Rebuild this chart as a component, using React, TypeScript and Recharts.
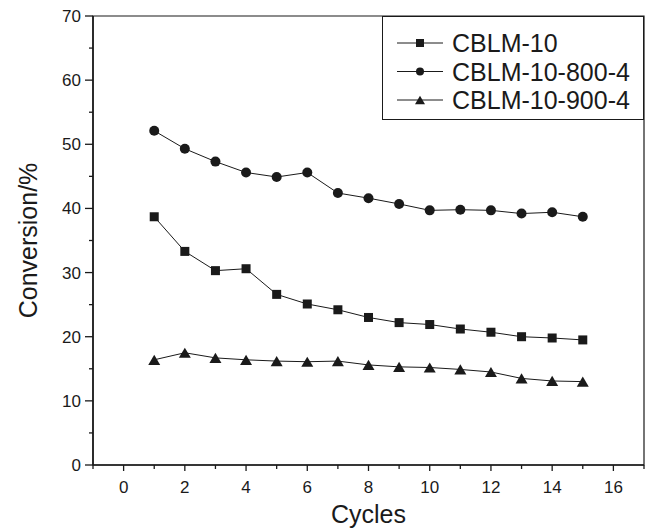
import { LineChart, Line, XAxis, YAxis, Legend, ReferenceArea } from 'recharts'

const cycles = [1, 2, 3, 4, 5, 6, 7, 8, 9, 10, 11, 12, 13, 14, 15]
const cblm10 = [38.7, 33.3, 30.3, 30.6, 26.6, 25.1, 24.2, 23.0, 22.2, 21.9, 21.2, 20.7, 20.0, 19.8, 19.5]
const cblm800 = [52.1, 49.3, 47.3, 45.6, 44.9, 45.6, 42.4, 41.6, 40.7, 39.7, 39.8, 39.7, 39.2, 39.4, 38.7]
const cblm900 = [16.4, 17.5, 16.7, 16.4, 16.2, 16.1, 16.2, 15.6, 15.3, 15.2, 14.9, 14.5, 13.5, 13.1, 13.0]
const xTicks = [-1, 0, 1, 2, 3, 4, 5, 6, 7, 8, 9, 10, 11, 12, 13, 14, 15, 16, 17]
const yTicks = [0, 5, 10, 15, 20, 25, 30, 35, 40, 45, 50, 55, 60, 65, 70]

const data = cycles.map((c, i) => ({ cycle: c, a: cblm10[i], b: cblm800[i], c: cblm900[i] }))

const font = '"Liberation Sans", Arial, Helvetica, sans-serif'
const ink = '#1a1a1a'
const shapes: Record<string, string> = { a: 'square', b: 'circle', c: 'triangle' }

function Marker({ shape, cx, cy, size }: { shape: string; cx: number; cy: number; size: number }) {
  if (shape === 'square') return <rect x={cx - size / 2} y={cy - size / 2} width={size} height={size} fill={ink} />
  if (shape === 'circle') return <circle cx={cx} cy={cy} r={size / 2} fill={ink} />
  const h = size * 0.85
  return <polygon points={`${cx},${cy - h / 2} ${cx - size / 2},${cy + h / 2} ${cx + size / 2},${cy + h / 2}`} fill={ink} />
}

const dotFor = (shape: string, size: number) => (p: any) =>
  <Marker key={`${shape}-${p.index}`} shape={shape} cx={p.cx} cy={p.cy} size={size} />

function XTick({ x, y, payload }: any) {
  const major = payload.value % 2 === 0
  return (
    <g>
      <line x1={x} x2={x} y1={y} y2={y + (major ? 6 : 4)} stroke={ink} strokeWidth={1.3} />
      {major && <text x={x} y={y + 28} textAnchor="middle" fontSize={17} fontFamily={font} fill={ink}>{payload.value}</text>}
    </g>
  )
}

function YTick({ x, y, payload }: any) {
  const major = payload.value % 10 === 0
  return (
    <g>
      <line x1={x - (major ? 8 : 4)} x2={x} y1={y} y2={y} stroke={ink} strokeWidth={1.3} />
      {major && <text x={x - 12} y={y + 6} textAnchor="end" fontSize={17} fontFamily={font} fill={ink}>{payload.value}</text>}
    </g>
  )
}

function LegendBox({ payload }: any) {
  return (
    <svg width={262} height={104} style={{ display: 'block' }}>
      <rect x={0.5} y={0.5} width={261} height={103} fill="#fff" stroke={ink} strokeWidth={1} />
      {(payload ?? []).map((e: any, i: number) => {
        const cy = 27 + i * 28.5
        const shape = shapes[e.dataKey]
        return (
          <g key={e.value}>
            <line x1={15} x2={61} y1={cy} y2={cy} stroke={ink} strokeWidth={1} />
            <Marker shape={shape} cx={38} cy={cy} size={shape === 'triangle' ? 10 : 8} />
            <text x={70} y={cy + 9} fontSize={25} fontFamily={font} fill={ink}>{e.value}</text>
          </g>
        )
      })}
    </svg>
  )
}

export default function App() {
  return (
    <div>
      <style>{'body{margin:0;background:#fff}'}</style>
      <LineChart width={648} height={530} data={data} margin={{ top: 16, right: 4, left: 0, bottom: 0 }}>
        <ReferenceArea x1={-1} x2={17} y1={0} y2={70} fill="none" stroke={ink} strokeWidth={1.2} />
        <XAxis
          dataKey="cycle" type="number" domain={[-1, 17]} ticks={xTicks} interval={0}
          height={65} tickSize={0} tickMargin={0} tickLine={false} tick={XTick}
          axisLine={{ stroke: ink, strokeWidth: 1.6 }}
          label={{
            content: ({ viewBox }: any) => (
              <text x={viewBox.x + viewBox.width / 2} y={viewBox.y + 58} textAnchor="middle" fontSize={25} fontFamily={font} fill={ink}>Cycles</text>
            ),
          }}
        />
        <YAxis
          type="number" domain={[0, 70]} ticks={yTicks} interval={0}
          width={93} tickSize={0} tickMargin={0} tickLine={false} tick={YTick}
          axisLine={{ stroke: ink, strokeWidth: 1.6 }}
          label={{
            content: ({ viewBox }: any) => {
              const cx = 37
              const cy = viewBox.y + viewBox.height / 2
              return (
                <text x={cx} y={cy} transform={`rotate(-90, ${cx}, ${cy})`} textAnchor="middle" fontSize={25} fontFamily={font} fill={ink}>Conversion/%</text>
              )
            },
          }}
        />
        <Legend
          layout="vertical" align="center" verticalAlign="middle"
          content={LegendBox}
          wrapperStyle={{ left: 382, top: 16, width: 262, height: 104 }}
        />
        <Line dataKey="a" name="CBLM-10" stroke={ink} strokeWidth={1} dot={dotFor('square', 9)} isAnimationActive={false} />
        <Line dataKey="b" name="CBLM-10-800-4" stroke={ink} strokeWidth={1} dot={dotFor('circle', 10)} isAnimationActive={false} />
        <Line dataKey="c" name="CBLM-10-900-4" stroke={ink} strokeWidth={1} dot={dotFor('triangle', 12)} isAnimationActive={false} />
      </LineChart>
    </div>
  )
}
